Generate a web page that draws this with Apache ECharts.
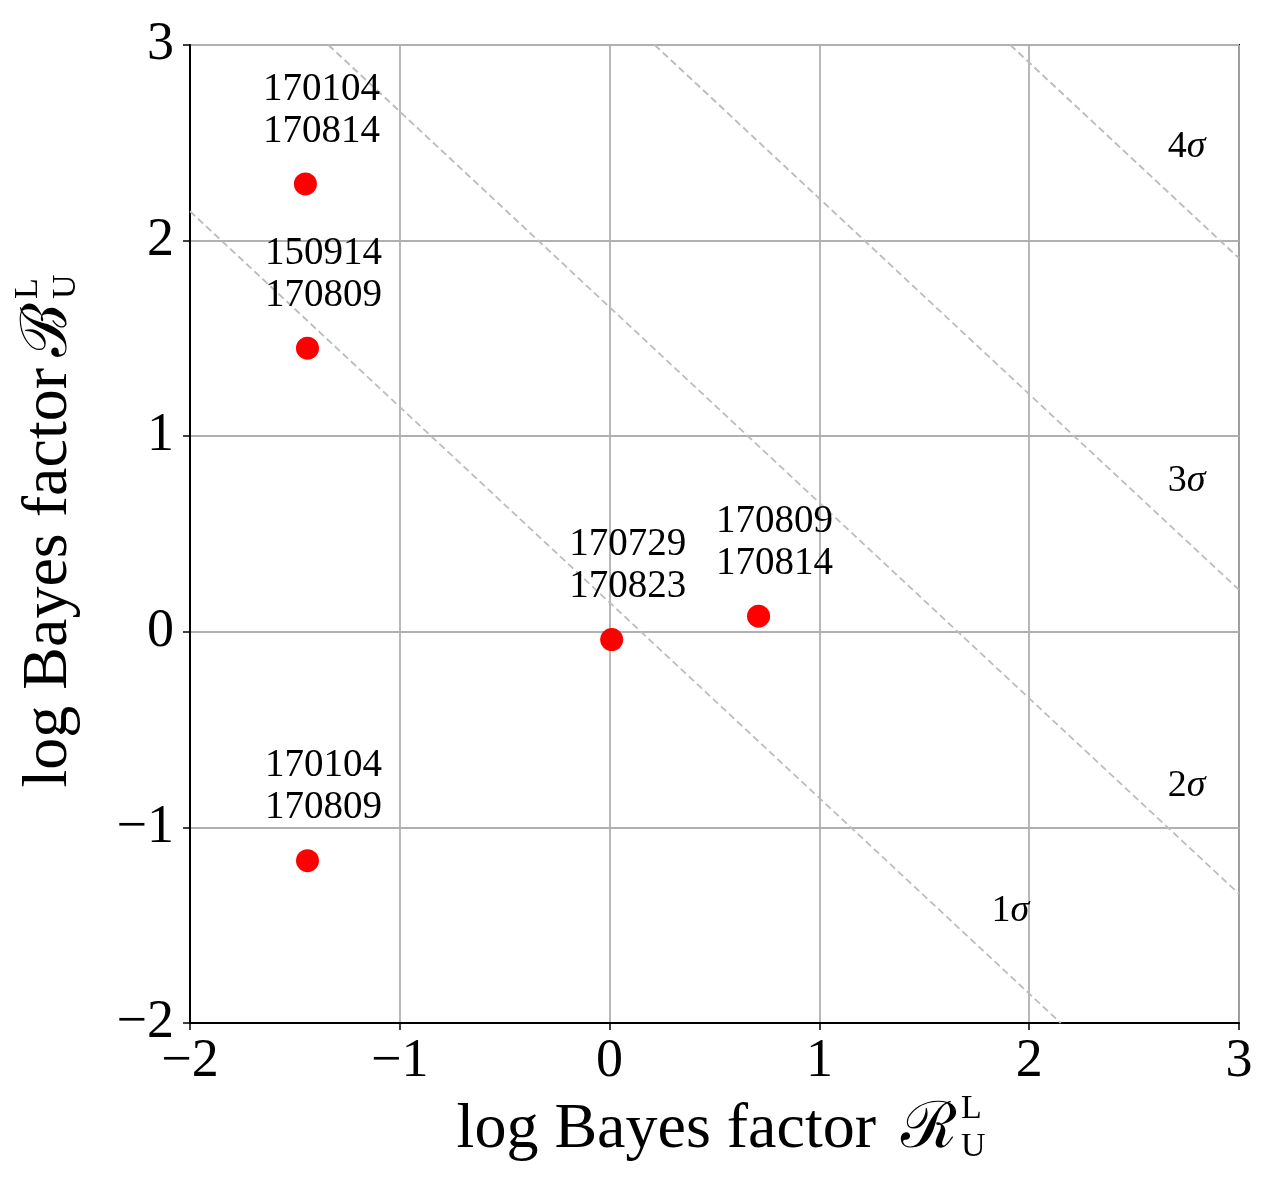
<!DOCTYPE html>
<html>
<head>
<meta charset="utf-8">
<script src="https://cdn.jsdelivr.net/npm/echarts@6/dist/echarts.min.js"></script>
<style>
  html, body { margin: 0; padding: 0; background: #fff; }
  #chart { width: 1275px; height: 1200px; }
</style>
</head>
<body>
<div id="chart"></div>
<script>
// event pairs and their two log Bayes factors
var pairNames = ['170104\n170814', '150914\n170809', '170729\n170823', '170809\n170814', '170104\n170809'];
var logR = [-1.45, -1.44, 0.01, 0.71, -1.44];
var logB = [2.29, 1.45, -0.04, 0.08, -1.17];

// sigma contours: log R + log B = const
var sigmaNames = ['1', '2', '3', '4'];
var sigmaLevels = [0.15, 1.66, 3.215, 4.91];
var sigmaLabelX = [1.91, 2.75, 2.75, 2.75];
var sigmaLabelY = [-1.43, -0.79, 0.77, 2.48];

var ticks = [-2, -1, 0, 1, 2, 3];
var serif = '"Liberation Serif", "DejaVu Serif", serif';

// axis title: main words, script letter, stacked L over U
function axisTitle(x, y, rot, letter, gap) {
	return {
		type : 'group', x : x, y : y, rotation : rot,
		children : [
			{ type : 'text', x : -gap, y : 0, style : { text : 'log Bayes factor', fontFamily : serif, fontSize : 64, fill : '#000', align : 'right', verticalAlign : 'middle' } },
			{ type : 'text', x : -3, y : 0, style : { text : letter, fontFamily : serif, fontSize : 64, fill : '#000', align : 'right', verticalAlign : 'middle' } },
			{ type : 'text', x : 1, y : -2, style : { text : 'L\nU', fontFamily : serif, fontSize : 34, lineHeight : 38, fill : '#000', align : 'left', verticalAlign : 'middle' } }
		]
	};
}

window.onload = function() {
	var myChart = echarts.init(document.getElementById('chart'));

	var series = [];
	for (var i = 0; i < sigmaLevels.length; i++) {
		var c = sigmaLevels[i];
		var x0 = Math.max(ticks[0], c - ticks[ticks.length - 1]);
		var x1 = Math.min(ticks[ticks.length - 1], c - ticks[0]);
		series.push({
			type : 'line',
			data : [[x0, c - x0], [x1, c - x1]],
			symbol : 'none',
			silent : true,
			z : 1,
			lineStyle : { color : '#bcbcbc', width : 1.8, type : [7, 4] }
		});
	}

	var pts = [];
	for (var j = 0; j < logR.length; j++) {
		pts.push({ name : pairNames[j], value : [logR[j], logB[j]] });
	}
	series.push({
		type : 'scatter',
		data : pts,
		symbolSize : 23,
		z : 5,
		itemStyle : { color : '#ff0000', opacity : 1 },
		label : {
			show : true,
			position : 'top',
			distance : 20,
			offset : [16, 0],
			formatter : '{b}',
			fontFamily : serif,
			fontSize : 39,
			lineHeight : 42,
			color : '#000',
			opacity : 1
		}
	});

	var sig = [];
	for (var k = 0; k < sigmaNames.length; k++) {
		sig.push({ name : sigmaNames[k], value : [sigmaLabelX[k], sigmaLabelY[k]] });
	}
	series.push({
		type : 'scatter',
		data : sig,
		symbolSize : 1,
		silent : true,
		z : 6,
		itemStyle : { color : 'rgba(0,0,0,0)', opacity : 1 },
		label : {
			show : true,
			position : 'inside',
			color : '#000',
			opacity : 1,
			textBorderWidth : 0,
			formatter : '{n|{b}}{g|σ}',
			rich : {
				n : { fontFamily : serif, fontSize : 38, color : '#000' },
				g : { fontFamily : serif, fontSize : 38, fontStyle : 'italic', color : '#000' }
			}
		}
	});

	var axisCommon = {
		type : 'value',
		min : -2,
		max : 3,
		interval : 1,
		axisLine : { show : true, onZero : false, lineStyle : { color : '#000', width : 2 } },
		axisTick : { show : true, inside : false, length : 7, lineStyle : { color : '#000', width : 1.5 } },
		splitLine : { show : true, lineStyle : { color : '#b0b0b0', width : 1.8 } },
		axisLabel : {
			fontFamily : serif,
			fontSize : 54,
			color : '#000',
			formatter : function(v) { return String(v).replace('-', '\u2212'); }
		}
	};

	var xAxis = echarts.util.merge({ axisLabel : { margin : 12 } }, axisCommon);
	var yAxis = echarts.util.merge({ axisLabel : { margin : 16 } }, axisCommon);

	var option = {
		animation : false,
		backgroundColor : '#fff',
		grid : {
			left : 190, right : 36, top : 45, bottom : 177,
			containLabel : false,
			outerBoundsMode : 'none',
			show : true,
			borderColor : '#000',
			borderWidth : 2
		},
		xAxis : xAxis,
		yAxis : yAxis,
		series : series,
		graphic : [
			axisTitle(960, 1130, 0, '\u211B', 84),
			axisTitle(49, 300, Math.PI / 2, '\u212C', 68)
		]
	};
	myChart.setOption(option);
};
</script>
</body>
</html>
